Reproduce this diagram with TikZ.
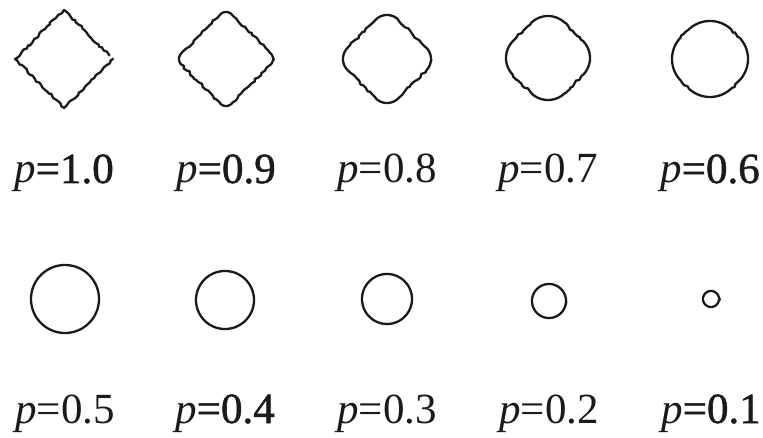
\documentclass[tikz,border=0pt]{standalone}
\usepackage{fontspec}
\setmainfont{Liberation Serif}
\newfontfamily\labelfont{Liberation Serif}
\newfontfamily\semibold[FakeBold=1.2]{Liberation Serif}
\usepackage{tikz}
\usetikzlibrary{positioning, decorations.pathmorphing}
\definecolor{sInk}{HTML}{1A1A1A}

\begin{document}
\begin{tikzpicture}[x=1pt, y=-1pt,
  outline/.style={draw=sInk, line width=2.3pt, line join=round, line cap=round,
    decorate, decoration={random steps, segment length=3pt, amplitude=1.2pt}},
  plabel/.style={anchor=base, inner sep=0pt, text=sInk, font=\labelfont\fontsize{43}{50}\selectfont}]
  \useasboundingbox (0,0) rectangle (763,438);
  % index / label / half size / corner radius / centre x / centre y / baseline
  \foreach \i/\txt/\rad/\rc/\cx/\cy/\ly in {
      1/{\semibold =1.0}/49/0/64/59/183, 2/{\semibold =0.9}/47/8/226/59/183,
      3/=0.8/44/16/387/59/183, 4/=0.7/42/24/548/58/183,
      5/{\semibold =0.6}/38/31/710/59/183, 6/=0.5/34/34/65/299/423,
      7/{\semibold =0.4}/29/29/225/300/423, 8/=0.3/25/25/387/299/423,
      9/=0.2/17/17/549/301/423, 10/{\semibold =0.1}/8/8/711/299/423}{
    \pgfmathsetmacro{\va}{\rad-\rc}
    \coordinate (c\i) at (\cx,\cy);
    \draw[outline] plot[variable=\t, domain=1:367, samples=123]
      ({\cx + \va*sign(cos(\t))*(abs(cos(\t))>abs(sin(\t))) + \rc*cos(\t)},
       {\cy + \va*sign(sin(\t))*(abs(sin(\t))>abs(cos(\t))) + \rc*sin(\t)});
    \node[plabel] (l\i) at (\cx,\ly) {\textit{p}\txt};
  }
\end{tikzpicture}
\end{document}
